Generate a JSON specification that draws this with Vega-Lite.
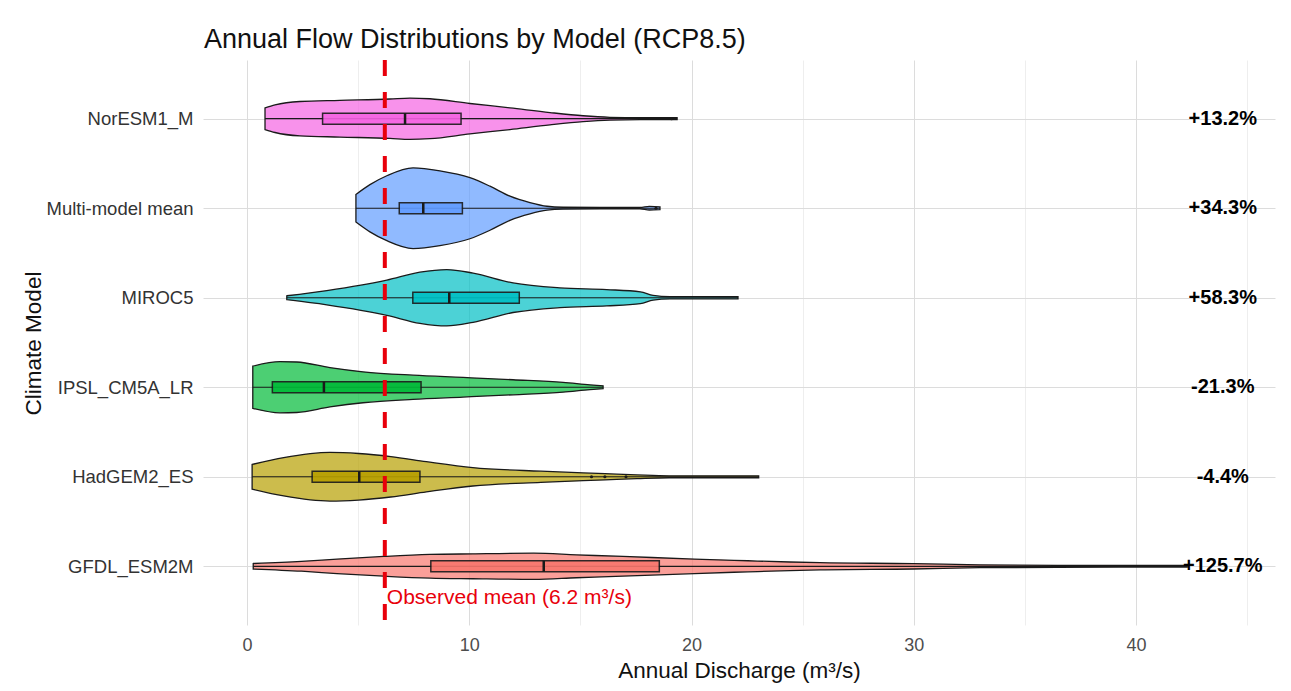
{
  "$schema": "https://vega.github.io/schema/vega-lite/v6.json",
  "autosize": {"type": "none"},
  "width": 1072,
  "height": 565,
  "padding": {"left": 203, "top": 60, "right": 16, "bottom": 66},
  "background": "white",
  "config": {"font": "Liberation Sans", "view": {"stroke": null}},
  "title": {"text": "Annual Flow Distributions by Model (RCP8.5)", "anchor": "start", "frame": "group", "fontSize": 27, "fontWeight": "normal", "color": "#111111", "offset": 4, "dx": 1},
  "datasets": {
    "violin": [
      {"m": "NorESM1_M", "x": 0.81, "lo": 5.879, "hi": 6.121},
      {"m": "NorESM1_M", "x": 1.26, "lo": 5.846, "hi": 6.154},
      {"m": "NorESM1_M", "x": 2.38, "lo": 5.808, "hi": 6.192},
      {"m": "NorESM1_M", "x": 4.18, "lo": 5.795, "hi": 6.205},
      {"m": "NorESM1_M", "x": 6.43, "lo": 5.780, "hi": 6.220},
      {"m": "NorESM1_M", "x": 7.33, "lo": 5.769, "hi": 6.231},
      {"m": "NorESM1_M", "x": 8.23, "lo": 5.777, "hi": 6.223},
      {"m": "NorESM1_M", "x": 10.03, "lo": 5.830, "hi": 6.170},
      {"m": "NorESM1_M", "x": 11.83, "lo": 5.879, "hi": 6.121},
      {"m": "NorESM1_M", "x": 13.63, "lo": 5.931, "hi": 6.069},
      {"m": "NorESM1_M", "x": 15.12, "lo": 5.967, "hi": 6.033},
      {"m": "NorESM1_M", "x": 16.33, "lo": 5.984, "hi": 6.016},
      {"m": "NorESM1_M", "x": 17.7, "lo": 5.989, "hi": 6.011},
      {"m": "NorESM1_M", "x": 19.35, "lo": 5.989, "hi": 6.011},
      {"m": "Multi-model mean", "x": 4.90, "lo": 4.846, "hi": 5.154},
      {"m": "Multi-model mean", "x": 5.53, "lo": 4.736, "hi": 5.264},
      {"m": "Multi-model mean", "x": 6.29, "lo": 4.637, "hi": 5.363},
      {"m": "Multi-model mean", "x": 7.47, "lo": 4.549, "hi": 5.451},
      {"m": "Multi-model mean", "x": 8.68, "lo": 4.582, "hi": 5.418},
      {"m": "Multi-model mean", "x": 10.03, "lo": 4.659, "hi": 5.341},
      {"m": "Multi-model mean", "x": 10.93, "lo": 4.754, "hi": 5.246},
      {"m": "Multi-model mean", "x": 11.83, "lo": 4.865, "hi": 5.135},
      {"m": "Multi-model mean", "x": 12.73, "lo": 4.937, "hi": 5.063},
      {"m": "Multi-model mean", "x": 13.5, "lo": 4.978, "hi": 5.022},
      {"m": "Multi-model mean", "x": 14.22, "lo": 4.989, "hi": 5.011},
      {"m": "Multi-model mean", "x": 15.88, "lo": 4.992, "hi": 5.008},
      {"m": "Multi-model mean", "x": 17.68, "lo": 4.992, "hi": 5.008},
      {"m": "Multi-model mean", "x": 18.1, "lo": 4.980, "hi": 5.020},
      {"m": "Multi-model mean", "x": 18.58, "lo": 4.984, "hi": 5.016},
      {"m": "MIROC5", "x": 1.79, "lo": 3.978, "hi": 4.022},
      {"m": "MIROC5", "x": 3.59, "lo": 3.920, "hi": 4.080},
      {"m": "MIROC5", "x": 6.29, "lo": 3.804, "hi": 4.196},
      {"m": "MIROC5", "x": 7.78, "lo": 3.714, "hi": 4.286},
      {"m": "MIROC5", "x": 8.99, "lo": 3.685, "hi": 4.315},
      {"m": "MIROC5", "x": 10.17, "lo": 3.725, "hi": 4.275},
      {"m": "MIROC5", "x": 11.97, "lo": 3.835, "hi": 4.165},
      {"m": "MIROC5", "x": 14.08, "lo": 3.890, "hi": 4.110},
      {"m": "MIROC5", "x": 16.18, "lo": 3.909, "hi": 4.091},
      {"m": "MIROC5", "x": 17.7, "lo": 3.934, "hi": 4.066},
      {"m": "MIROC5", "x": 18.27, "lo": 3.973, "hi": 4.027},
      {"m": "MIROC5", "x": 19.03, "lo": 3.987, "hi": 4.013},
      {"m": "MIROC5", "x": 22.09, "lo": 3.989, "hi": 4.011},
      {"m": "IPSL_CM5A_LR", "x": 0.26, "lo": 2.764, "hi": 3.236},
      {"m": "IPSL_CM5A_LR", "x": 1.48, "lo": 2.714, "hi": 3.286},
      {"m": "IPSL_CM5A_LR", "x": 2.24, "lo": 2.718, "hi": 3.282},
      {"m": "IPSL_CM5A_LR", "x": 3.73, "lo": 2.780, "hi": 3.220},
      {"m": "IPSL_CM5A_LR", "x": 5.22, "lo": 2.827, "hi": 3.173},
      {"m": "IPSL_CM5A_LR", "x": 7.47, "lo": 2.865, "hi": 3.135},
      {"m": "IPSL_CM5A_LR", "x": 9.72, "lo": 2.890, "hi": 3.110},
      {"m": "IPSL_CM5A_LR", "x": 11.97, "lo": 2.916, "hi": 3.084},
      {"m": "IPSL_CM5A_LR", "x": 14.22, "lo": 2.945, "hi": 3.055},
      {"m": "IPSL_CM5A_LR", "x": 15.43, "lo": 2.973, "hi": 3.027},
      {"m": "IPSL_CM5A_LR", "x": 16.02, "lo": 2.984, "hi": 3.016},
      {"m": "HadGEM2_ES", "x": 0.23, "lo": 1.862, "hi": 2.138},
      {"m": "HadGEM2_ES", "x": 1.65, "lo": 1.786, "hi": 2.214},
      {"m": "HadGEM2_ES", "x": 3.73, "lo": 1.728, "hi": 2.272},
      {"m": "HadGEM2_ES", "x": 5.02, "lo": 1.740, "hi": 2.260},
      {"m": "HadGEM2_ES", "x": 6.47, "lo": 1.774, "hi": 2.226},
      {"m": "HadGEM2_ES", "x": 8.07, "lo": 1.831, "hi": 2.169},
      {"m": "HadGEM2_ES", "x": 10.16, "lo": 1.897, "hi": 2.103},
      {"m": "HadGEM2_ES", "x": 13.22, "lo": 1.938, "hi": 2.062},
      {"m": "HadGEM2_ES", "x": 16.11, "lo": 1.965, "hi": 2.035},
      {"m": "HadGEM2_ES", "x": 17.55, "lo": 1.979, "hi": 2.021},
      {"m": "HadGEM2_ES", "x": 18.99, "lo": 1.989, "hi": 2.011},
      {"m": "HadGEM2_ES", "x": 23.02, "lo": 1.989, "hi": 2.011},
      {"m": "GFDL_ESM2M", "x": 0.28, "lo": 0.969, "hi": 1.031},
      {"m": "GFDL_ESM2M", "x": 2.45, "lo": 0.945, "hi": 1.055},
      {"m": "GFDL_ESM2M", "x": 4.05, "lo": 0.919, "hi": 1.081},
      {"m": "GFDL_ESM2M", "x": 6.15, "lo": 0.890, "hi": 1.110},
      {"m": "GFDL_ESM2M", "x": 8.23, "lo": 0.868, "hi": 1.132},
      {"m": "GFDL_ESM2M", "x": 10.16, "lo": 0.861, "hi": 1.139},
      {"m": "GFDL_ESM2M", "x": 12.9, "lo": 0.854, "hi": 1.146},
      {"m": "GFDL_ESM2M", "x": 14.82, "lo": 0.872, "hi": 1.128},
      {"m": "GFDL_ESM2M", "x": 16.91, "lo": 0.890, "hi": 1.110},
      {"m": "GFDL_ESM2M", "x": 20.13, "lo": 0.919, "hi": 1.081},
      {"m": "GFDL_ESM2M", "x": 22.54, "lo": 0.938, "hi": 1.062},
      {"m": "GFDL_ESM2M", "x": 24.43, "lo": 0.952, "hi": 1.048},
      {"m": "GFDL_ESM2M", "x": 25.78, "lo": 0.960, "hi": 1.040},
      {"m": "GFDL_ESM2M", "x": 29.97, "lo": 0.970, "hi": 1.030},
      {"m": "GFDL_ESM2M", "x": 32.98, "lo": 0.984, "hi": 1.016},
      {"m": "GFDL_ESM2M", "x": 36.45, "lo": 0.989, "hi": 1.011},
      {"m": "GFDL_ESM2M", "x": 42.3, "lo": 0.991, "hi": 1.009}
    ],
    "boxes": [
      {"m": "NorESM1_M", "k": 6, "q1": 3.40, "med": 7.11, "q3": 9.63, "min": 0.81, "max": 19.35, "pct": "+13.2%"},
      {"m": "Multi-model mean", "k": 5, "q1": 6.85, "med": 7.93, "q3": 9.69, "min": 4.90, "max": 18.58, "pct": "+34.3%"},
      {"m": "MIROC5", "k": 4, "q1": 7.46, "med": 9.10, "q3": 12.25, "min": 1.79, "max": 22.09, "pct": "+58.3%"},
      {"m": "IPSL_CM5A_LR", "k": 3, "q1": 1.14, "med": 3.46, "q3": 7.83, "min": 0.26, "max": 16.02, "pct": "-21.3%"},
      {"m": "HadGEM2_ES", "k": 2, "q1": 2.93, "med": 5.05, "q3": 7.78, "min": 0.23, "max": 23.02, "pct": "-4.4%"},
      {"m": "GFDL_ESM2M", "k": 1, "q1": 8.27, "med": 13.35, "q3": 18.55, "min": 0.28, "max": 42.3, "pct": "+125.7%"}
    ],
    "outliers": [
      {"k": 6, "x": 19.1},
      {"k": 5, "x": 18.4},
      {"k": 2, "x": 15.5},
      {"k": 2, "x": 16.1},
      {"k": 2, "x": 17.05}
    ],
    "obs": [{"v": 6.2, "y": 0.648, "label": "Observed mean (6.2 m³/s)"}]
  },
  "layer": [
    {
      "data": {"name": "violin"},
      "mark": {"type": "area", "interpolate": "monotone", "fillOpacity": 0.7, "stroke": "#1a1a1a", "strokeWidth": 1.3},
      "encoding": {
        "x": {"field": "x", "type": "quantitative", "title": "Annual Discharge (m³/s)",
          "scale": {"domain": [-1.98, 46.25], "nice": false, "zero": false},
          "axis": {"values": [0, 5, 10, 15, 20, 25, 30, 35, 40, 45],
            "labelExpr": "datum.value % 10 === 0 ? datum.label : ''",
            "domain": false, "ticks": false, "labelFontSize": 18, "labelColor": "#4d4d4d", "labelPadding": 11, "labelFlush": false,
            "titleFontSize": 22.5, "titleFontWeight": "normal", "titleColor": "#111111", "titlePadding": 5,
            "gridColor": {"condition": {"test": "datum.value % 10 === 0", "value": "#dcdcdc"}, "value": "#eeeeee"}, "gridWidth": 1}},
        "y": {"field": "lo", "type": "quantitative", "title": "Climate Model",
          "scale": {"domain": [0.4, 6.6], "nice": false, "zero": false},
          "axis": {"values": [1, 2, 3, 4, 5, 6],
            "labelExpr": "['', 'GFDL_ESM2M', 'HadGEM2_ES', 'IPSL_CM5A_LR', 'MIROC5', 'Multi-model mean', 'NorESM1_M'][datum.value]",
            "domain": false, "ticks": false, "labelFontSize": 18.5, "labelColor": "#333333", "labelPadding": 10,
            "titleFontSize": 22.5, "titleFontWeight": "normal", "titleColor": "#111111",
            "titleX": -170, "titleY": 283, "titleAlign": "center", "titleBaseline": "middle",
            "gridColor": "#dcdcdc", "gridWidth": 1}},
        "y2": {"field": "hi"},
        "color": {"field": "m", "type": "nominal", "legend": null,
          "scale": {"domain": ["GFDL_ESM2M", "HadGEM2_ES", "IPSL_CM5A_LR", "MIROC5", "Multi-model mean", "NorESM1_M"],
            "range": ["#F8766D", "#B79F00", "#00BA38", "#00BFC4", "#619CFF", "#F564E3"]}}
      }
    },
    {
      "data": {"name": "boxes"},
      "mark": {"type": "rule", "color": "#1a1a1a", "strokeWidth": 1.2},
      "encoding": {
        "x": {"field": "min", "type": "quantitative"},
        "x2": {"field": "max"},
        "y": {"field": "k", "type": "quantitative"}
      }
    },
    {
      "data": {"name": "boxes"},
      "mark": {"type": "bar", "height": 11, "opacity": 0.9, "stroke": "#1a1a1a", "strokeWidth": 1.5},
      "encoding": {
        "x": {"field": "q1", "type": "quantitative"},
        "x2": {"field": "q3"},
        "y": {"field": "k", "type": "quantitative"},
        "color": {"field": "m", "type": "nominal", "legend": null}
      }
    },
    {
      "data": {"name": "boxes"},
      "mark": {"type": "tick", "orient": "vertical", "color": "#1a1a1a", "size": 11, "thickness": 2.5, "opacity": 1},
      "encoding": {
        "x": {"field": "med", "type": "quantitative"},
        "y": {"field": "k", "type": "quantitative"}
      }
    },
    {
      "data": {"name": "outliers"},
      "mark": {"type": "point", "filled": true, "color": "#1a1a1a", "size": 10, "opacity": 1},
      "encoding": {
        "x": {"field": "x", "type": "quantitative"},
        "y": {"field": "k", "type": "quantitative"}
      }
    },
    {
      "data": {"name": "obs"},
      "mark": {"type": "rule", "color": "#e8000b", "strokeWidth": 4, "strokeDash": [16, 16]},
      "encoding": {
        "x": {"field": "v", "type": "quantitative"}
      }
    },
    {
      "data": {"name": "obs"},
      "mark": {"type": "text", "color": "#e8000b", "fontSize": 21, "align": "left", "baseline": "middle", "dx": 2},
      "encoding": {
        "x": {"field": "v", "type": "quantitative"},
        "y": {"field": "y", "type": "quantitative"},
        "text": {"field": "label"}
      }
    },
    {
      "data": {"name": "boxes"},
      "mark": {"type": "text", "color": "#000000", "fontSize": 20, "fontWeight": "bold", "align": "center", "baseline": "middle"},
      "encoding": {
        "x": {"datum": 43.9, "type": "quantitative"},
        "y": {"field": "k", "type": "quantitative"},
        "text": {"field": "pct"}
      }
    }
  ]
}
